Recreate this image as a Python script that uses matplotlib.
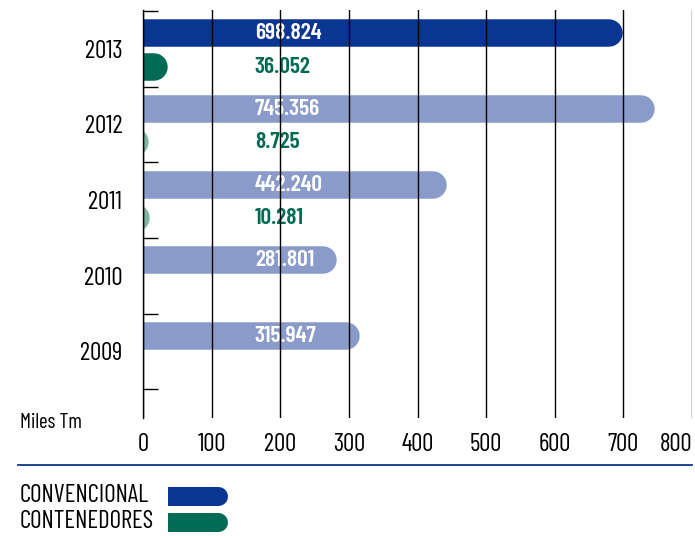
import numpy as np
import matplotlib
matplotlib.use("Agg")
import matplotlib.pyplot as plt
from matplotlib.lines import Line2D

plt.rcParams['font.family'] = ['Barlow Condensed', 'DejaVu Sans']

# data (miles de toneladas)
years = ["2013", "2012", "2011", "2010", "2009"]
convencional = [698.824, 745.356, 442.240, 281.801, 315.947]
contenedores = [36.052, 8.725, 10.281, np.nan, np.nan]
xticks = [0, 100, 200, 300, 400, 500, 600, 700, 800]

NAVY = "#0a3591"
NAVY_LIGHT = "#8a9bc9"
GREEN = "#006b55"
GREEN_LIGHT = "#82b5a6"

W, H = 695, 536
fig = plt.figure(figsize=(W / 100, H / 100), dpi=100)
ax = fig.add_axes([143 / W, 1 - 418 / H, 549 / W, 408 / H])
ax.set_xlim(0, 800)
ax.set_ylim(-0.88, 4.513)

px_per_unit = 549 / 800
bar_px = 27.5
r = (bar_px / 2) / px_per_unit      # cap radius in data units
lw = bar_px * 0.72                  # px -> points

ypos = np.arange(len(years))[::-1]  # 2013 on top
off_c, off_k = 0.205, -0.238

for i, (y, v) in enumerate(zip(ypos, convencional)):
    col = NAVY if i == 0 else NAVY_LIGHT
    ax.plot([-100, v - r], [y + off_c] * 2, color=col, lw=lw,
            solid_capstyle="round", zorder=2)
    ax.text(163, y + off_c, f"{v:.3f}", color="white", fontsize=17,
            fontweight=600, ha="left", va="center", zorder=2.3)

for i, (y, v) in enumerate(zip(ypos, contenedores)):
    if np.isnan(v):
        continue
    col = GREEN if i == 0 else GREEN_LIGHT
    ax.plot([-100, v - r], [y + off_k] * 2, color=col, lw=lw,
            solid_capstyle="round", zorder=2)
    ax.text(163, y + off_k, f"{v:.3f}", color=GREEN, fontsize=17,
            fontweight=600, ha="left", va="center", zorder=2.3)

# grid / axes styling
ax.set_xticks(xticks)
ax.set_xticklabels([str(t) for t in xticks], fontsize=18)
ax.get_xticklabels()[-1].set_ha("right")
ax.tick_params(axis="x", length=0, pad=11)
ax.grid(axis="x", color="black", lw=1)
ax.set_axisbelow(False)

ax.set_yticks(np.arange(-0.5, len(years), 1.0))
ax.set_yticklabels([])
ax.tick_params(axis="y", which="major", direction="in", length=10.8, width=1, color="black")
ax.set_yticks(ypos, minor=True)
ax.set_yticklabels(years, minor=True, fontsize=18)
ax.tick_params(axis="y", which="minor", length=0, pad=15)

for s in ["top", "right", "bottom"]:
    ax.spines[s].set_visible(False)
ax.spines["left"].set_color("black")
ax.spines["left"].set_linewidth(1)

fig.text(20 / W, 1 - 422 / H, "Miles Tm", fontsize=15, va="center", ha="left")

fig.add_artist(Line2D([18 / W, 692 / W], [1 - 465 / H] * 2, color=NAVY, lw=1.3))

# legend
lax = fig.add_axes([168 / W, 1 - 535 / H, 70 / W, 55 / H])
lax.set_xlim(0, 70)
lax.set_ylim(535, 480)
lax.axis("off")
leg_px = 19
for yy, col, lab in [(495.5, NAVY, "CONVENCIONAL"), (522, GREEN, "CONTENEDORES")]:
    lax.plot([-20, 59 - leg_px / 2], [yy, yy], color=col, lw=leg_px * 0.72,
             solid_capstyle="round")
    fig.text(20 / W, 1 - yy / H, lab, fontsize=18, va="center", ha="left")

fig.savefig("out.png", dpi=100)
